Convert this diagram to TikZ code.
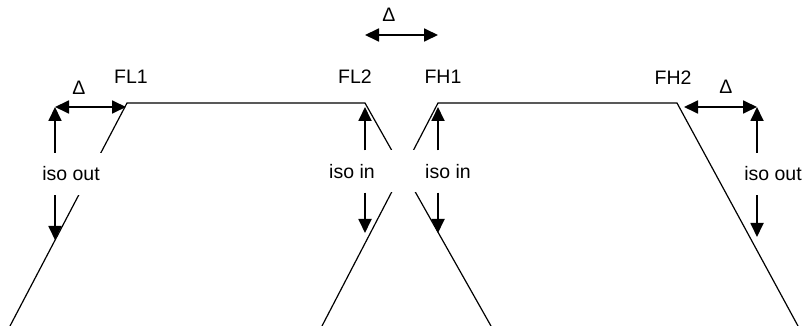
\documentclass[tikz,border=0pt]{standalone}
\usepackage{fontspec}
\setmainfont{Liberation Sans}
\usetikzlibrary{arrows.meta}
\begin{document}
\begin{tikzpicture}[x=1pt,y=-1pt,
  edge/.style={line width=1.2pt, black},
  tip/.style={Triangle[length=14pt,width=13pt]},
  dim/.style={line width=1.8pt, -{Triangle[length=14pt,width=13pt]}},
  dimboth/.style={line width=1.8pt, {Triangle[length=14pt,width=13pt]}-{Triangle[length=14pt,width=13pt]}},
  tag/.style={inner sep=0pt, font=\fontsize{19.5}{23}\selectfont},
  iso/.style={tag, fill=white, minimum height=42pt, inner xsep=4pt},
]
\useasboundingbox (0,0) rectangle (804,326);

% band edges: corners of the two passbands and where the skirts leave the frame
\coordinate (fl1) at (127,103);
\coordinate (fl2) at (365,103);
\coordinate (fh1) at (438,103);
\coordinate (fh2) at (677,103);
\coordinate (bl1) at (10,326);
\coordinate (bl2) at (491,326);
\coordinate (bh1) at (322,326);
\coordinate (bh2) at (798,326);

% low band and high band outlines
\draw[edge] (bl1) -- (fl1) -- (fl2) -- (bl2);
\draw[edge] (bh1) -- (fh1) -- (fh2) -- (bh2);

% arrow end points
\coordinate (d1a) at (55,107);
\coordinate (d1b) at (126,107);
\coordinate (d1v) at (55,240);
\coordinate (d2a) at (684,107);
\coordinate (d2b) at (757,107);
\coordinate (d2v) at (757,237);
\coordinate (il) at (365,107);
\coordinate (ilv) at (365,233);
\coordinate (ih) at (438,107);
\coordinate (ihv) at (438,233);
\coordinate (ta) at (365,35);
\coordinate (tb) at (438,35);

% isolation labels (white boxes interrupt the lines behind them)
\node[iso] (isoout1) at (71,174) {iso out};
\node[iso] (isoout2) at (773,174) {iso out};
\node[iso, minimum width=134pt] (isoin1) at (352,171.5) {iso in};
\node[iso, minimum width=134pt] (isoin2) at (448,171.5) {iso in};

% edge frequency labels
\node[tag] (lfl1) at (131,77) {FL1};
\node[tag] (lfl2) at (355,77) {FL2};
\node[tag] (lfh1) at (443,77) {FH1};
\node[tag] (lfh2) at (673,78) {FH2};
\node[tag] (del1) at (79,88) {Δ};
\node[tag] (del2) at (726,87) {Δ};
\node[tag] (del0) at (389,15) {Δ};

% guard band arrows
\draw[dimboth] (d1a) -- (d1b);
\draw[dimboth] (d2a) -- (d2b);
\draw[dimboth] (ta) -- (tb);

% isolation arrows
\draw[dim] (d1a |- isoout1.north) -- (d1a);
\draw[dim] (d1v |- isoout1.south) -- (d1v);
\draw[dim] (d2b |- isoout2.north) -- (d2b);
\draw[dim] (d2v |- isoout2.south) -- (d2v);
\draw[dim] (il |- isoin1.north) -- (il);
\draw[dim] (ilv |- isoin1.south) -- (ilv);
\draw[dim] (ih |- isoin2.north) -- (ih);
\draw[dim] (ihv |- isoin2.south) -- (ihv);
\end{tikzpicture}
\end{document}
